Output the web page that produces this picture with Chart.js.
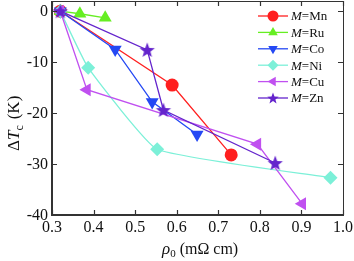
<!DOCTYPE html>
<html>
<head>
<meta charset="utf-8">
<script src="https://cdn.jsdelivr.net/npm/chart.js@4"></script>
<style>
  html, body { margin: 0; padding: 0; background: #fff; }
  #wrap { width: 354px; height: 261px; }
</style>
</head>
<body>
<div id="wrap"><canvas id="chart" width="354" height="261"></canvas></div>
<script>
// ============================================================
// Data
// ============================================================
const seriesNames = ['Mn', 'Ru', 'Co', 'Ni', 'Cu', 'Zn'];
const mnRho = [0.32, 0.589, 0.731];
const mnDT  = [0, -14.5, -28.2];
const ruRho = [0.32, 0.367, 0.428];
const ruDT  = [0, -0.5, -1.3];
const coRho = [0.32, 0.452, 0.541, 0.649];
const coDT  = [0, -7.5, -17.8, -24.2];
const niRho = [0.32, 0.387, 0.553, 0.970];
const niDT  = [0, -11.1, -27.1, -32.7];
const cuRho = [0.32, 0.384, 0.794, 0.902];
const cuDT  = [0, -15.4, -26.1, -37.8];
const znRho = [0.32, 0.529, 0.568, 0.837];
const znDT  = [0, -7.6, -19.4, -29.8];
const xTicks = [0.3, 0.4, 0.5, 0.6, 0.7, 0.8, 0.9, 1.0];
const yTicks = [0, -10, -20, -30, -40];

const FONT = '"Liberation Serif", "DejaVu Serif", serif';

// ============================================================
// Utilities
// ============================================================
function pairs(xs, ys) {
  return xs.map((x, i) => ({ x: x, y: ys[i] }));
}

// filled five-point star as a point image
function starImage(color, r) {
  const c = document.createElement('canvas');
  const s = Math.ceil(r * 2 + 2);
  c.width = s; c.height = s;
  const g = c.getContext('2d');
  g.beginPath();
  for (let i = 0; i < 10; i++) {
    const rad = i % 2 === 0 ? r : r * 0.42;
    const a = -Math.PI / 2 + i * Math.PI / 5;
    const px = s / 2 + rad * Math.cos(a), py = s / 2 + 0.6 + rad * Math.sin(a);
    if (i === 0) g.moveTo(px, py); else g.lineTo(px, py);
  }
  g.closePath();
  g.fillStyle = color;
  g.fill();
  return c;
}

const colors = {
  Mn: '#ff1f1f',
  Ru: '#66ee22',
  Co: '#2448f4',
  Ni: '#7cf0d8',
  Cu: '#c050f0',
  Zn: '#6424cc'
};

// ============================================================
// Datasets
// ============================================================
function ds(name, xs, ys, style, rot, radius, order, extra) {
  return Object.assign({
    label: name,
    data: pairs(xs, ys),
    borderColor: colors[name],
    backgroundColor: colors[name],
    pointBackgroundColor: colors[name],
    pointBorderColor: colors[name],
    pointStyle: style,
    rotation: rot,
    pointRadius: radius,
    borderWidth: 1.3,
    pointBorderWidth: 0,
    tension: 0,
    order: order,   // later series on top, as in the picture
    clip: false
  }, extra || {});
}

const datasets = [
  ds('Mn', mnRho, mnDT, 'circle', 0, 6.5, 5),
  ds('Ru', ruRho, ruDT, 'triangle', 0, 7.5, 4),
  ds('Co', coRho, coDT, 'triangle', 180, 7.5, 3),
  ds('Ni', niRho, niDT, 'rectRot', 0, 7, 2, { tension: 0.12 }),
  ds('Cu', cuRho, cuDT, 'triangle', -90, 7.5, 1),
  ds('Zn', znRho, znDT, starImage(colors.Zn, 8), 0, 8, 0)
];

// ============================================================
// Plugins: frame + inward ticks + tick labels, axis titles, legend
// ============================================================
const framePlugin = {
  id: 'frame',
  afterDatasetsDraw(chart) {
    const { ctx, chartArea: a, scales } = chart;
    ctx.save();
    ctx.strokeStyle = '#333';
    ctx.lineWidth = 1;
    ctx.beginPath();
    ctx.moveTo(a.left, a.top + 0.5); ctx.lineTo(a.right + 0.5, a.top + 0.5);
    ctx.lineTo(a.right + 0.5, a.bottom);
    ctx.stroke();
    ctx.lineWidth = 2;
    ctx.beginPath();
    ctx.moveTo(a.left, a.top); ctx.lineTo(a.left, a.bottom); ctx.lineTo(a.right + 1, a.bottom);
    ctx.stroke();
    ctx.lineWidth = 1.2;
    ctx.beginPath();
    xTicks.forEach(v => {
      const px = Math.round(scales.x.getPixelForValue(v)) + 0.5;
      ctx.moveTo(px, a.bottom); ctx.lineTo(px, a.bottom - 5);
      ctx.moveTo(px, a.top); ctx.lineTo(px, a.top + 5);
    });
    yTicks.forEach(v => {
      const py = Math.round(scales.y.getPixelForValue(v)) + 0.5;
      ctx.moveTo(a.left, py); ctx.lineTo(a.left + 5, py);
      ctx.moveTo(a.right, py); ctx.lineTo(a.right - 5, py);
    });
    ctx.stroke();

    // tick labels
    ctx.fillStyle = '#111';
    ctx.font = '16px ' + FONT;
    ctx.textAlign = 'center';
    ctx.textBaseline = 'top';
    xTicks.forEach(v => {
      ctx.fillText(v.toFixed(1), scales.x.getPixelForValue(v), a.bottom + 5);
    });
    ctx.textAlign = 'right';
    ctx.textBaseline = 'middle';
    yTicks.forEach(v => {
      ctx.fillText(String(v), a.left - 4, scales.y.getPixelForValue(v) + 1);
    });
    ctx.restore();
  }
};

const titlesPlugin = {
  id: 'titles',
  afterDraw(chart) {
    const { ctx } = chart;
    ctx.save();
    ctx.fillStyle = '#111';
    ctx.textBaseline = 'alphabetic';
    // x title: rho_0 (mOhm cm)
    let x = 162, y = 254;
    ctx.font = 'italic 17px ' + FONT;
    ctx.fillText('ρ', x, y);
    x += ctx.measureText('ρ').width;
    ctx.font = '11px ' + FONT;
    ctx.fillText('0', x, y + 3);
    x += ctx.measureText('0').width + 4;
    ctx.font = '16px ' + FONT;
    ctx.fillText('(mΩ cm)', x, y);
    // y title: Delta T_c (K), rotated
    ctx.translate(19, 151);
    ctx.rotate(-Math.PI / 2);
    x = 0; y = 0;
    ctx.font = '17px ' + FONT;
    ctx.fillText('Δ', x, y);
    x += ctx.measureText('Δ').width;
    ctx.font = 'italic 17px ' + FONT;
    ctx.fillText('T', x, y);
    x += ctx.measureText('T').width;
    ctx.font = '12px ' + FONT;
    ctx.fillText('c', x, y + 4);
    x += ctx.measureText('c').width + 6;
    ctx.font = '17px ' + FONT;
    ctx.fillText('(K)', x, y);
    ctx.restore();
  }
};

const legendPlugin = {
  id: 'mlegend',
  afterDraw(chart) {
    const { ctx } = chart;
    ctx.save();
    datasets.forEach((d, i) => {
      const y = 16 + i * 16.4;
      ctx.strokeStyle = d.borderColor;
      ctx.lineWidth = 1.3;
      ctx.beginPath();
      ctx.moveTo(258, y); ctx.lineTo(288, y);
      ctx.stroke();
      ctx.fillStyle = d.borderColor;
      if (typeof d.pointStyle === 'string') {
        Chart.helpers.drawPoint(ctx, {
          pointStyle: d.pointStyle, rotation: d.rotation, radius: 5.5, borderWidth: 0
        }, 273, y);
      } else {
        const img = starImage(colors.Zn, 6);
        ctx.drawImage(img, 273 - img.width / 2, y - img.height / 2);
      }
      ctx.fillStyle = '#111';
      ctx.textBaseline = 'middle';
      ctx.font = 'italic 13px ' + FONT;
      ctx.fillText('M', 291, y + 1);
      const w = ctx.measureText('M').width;
      ctx.font = '13px ' + FONT;
      ctx.fillText('=' + seriesNames[i], 291 + w, y + 1);
    });
    ctx.restore();
  }
};

// ============================================================
// Chart
// ============================================================
function init() {
  const ctx = document.getElementById('chart').getContext('2d');
  new Chart(ctx, {
    type: 'line',
    data: { datasets: datasets },
    options: {
      responsive: false,
      animation: false,
      layout: { autoPadding: false, padding: { top: 1, right: 11, left: 0, bottom: 0 } },
      plugins: { legend: { display: false }, tooltip: { enabled: false } },
      scales: {
        x: {
          type: 'linear', min: 0.3, max: 1.0,
          afterFit: s => { s.height = 46; },
          afterBuildTicks: s => { s.ticks = xTicks.map(v => ({ value: v })); },
          grid: { display: false }, border: { display: false },
          ticks: { display: false }
        },
        y: {
          type: 'linear', min: -40, max: 2,
          afterFit: s => { s.width = 52; },
          afterBuildTicks: s => { s.ticks = yTicks.map(v => ({ value: v })); },
          grid: { display: false }, border: { display: false },
          ticks: { display: false }
        }
      }
    },
    plugins: [framePlugin, titlesPlugin, legendPlugin]
  });
}

document.addEventListener('DOMContentLoaded', init);
</script>
</body>
</html>
